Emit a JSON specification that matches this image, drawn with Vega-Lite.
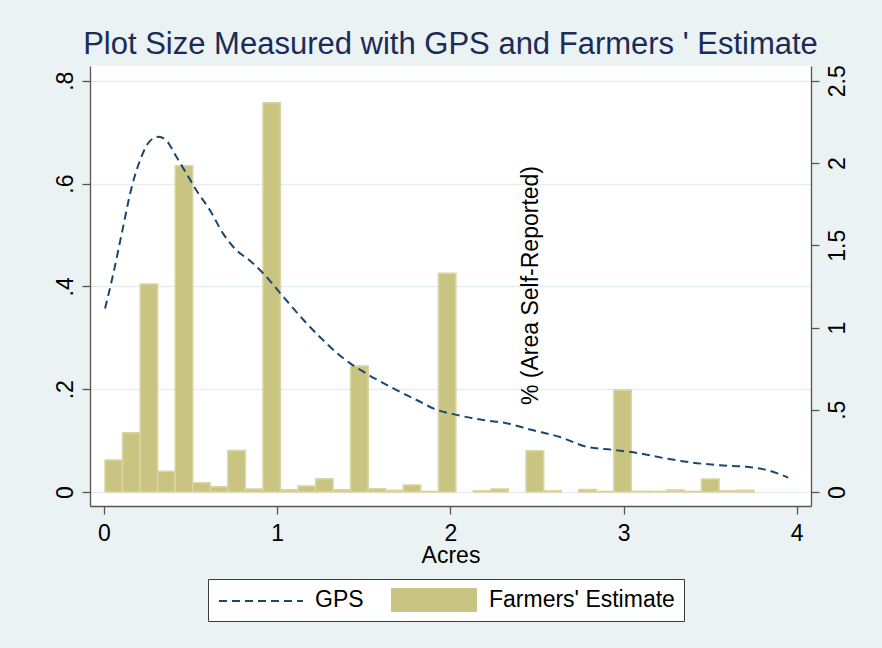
{
  "$schema": "https://vega.github.io/schema/vega-lite/v6.json",
  "autosize": {"type": "none"},
  "width": 721,
  "height": 440,
  "padding": {"left": 90, "top": 66, "right": 71, "bottom": 142},
  "background": "#eaf2f3",
  "config": {
    "view": {"fill": "white", "stroke": null},
    "font": "Liberation Sans",
    "axis": {
      "labelFont": "Liberation Sans", "labelFontSize": 23, "labelColor": "black",
      "titleFont": "Liberation Sans", "titleFontSize": 23, "titleColor": "black", "titleFontWeight": "normal",
      "domainColor": "#555555", "domainWidth": 1.3, "tickColor": "#555555", "tickWidth": 1.3, "tickSize": 8,
      "gridColor": "#e6eef1", "gridWidth": 1.5
    }
  },
  "title": {
    "text": "Plot Size Measured with GPS and Farmers ' Estimate",
    "font": "Liberation Sans", "fontSize": 31, "fontWeight": "normal", "color": "#1c2b57",
    "anchor": "middle", "frame": "group", "baseline": "alphabetic", "offset": 11, "dy": 31
  },
  "layer": [
    {
      "data": {"values": [
        {"start": 0.006, "end": 0.107, "density": 0.195},
        {"start": 0.107, "end": 0.209, "density": 0.36},
        {"start": 0.209, "end": 0.310, "density": 1.264},
        {"start": 0.310, "end": 0.411, "density": 0.126},
        {"start": 0.411, "end": 0.513, "density": 1.984},
        {"start": 0.513, "end": 0.614, "density": 0.057},
        {"start": 0.614, "end": 0.715, "density": 0.032},
        {"start": 0.715, "end": 0.816, "density": 0.253},
        {"start": 0.816, "end": 0.918, "density": 0.018},
        {"start": 0.918, "end": 1.019, "density": 2.367},
        {"start": 1.019, "end": 1.120, "density": 0.014},
        {"start": 1.120, "end": 1.222, "density": 0.036},
        {"start": 1.222, "end": 1.323, "density": 0.081},
        {"start": 1.323, "end": 1.424, "density": 0.014},
        {"start": 1.424, "end": 1.526, "density": 0.766},
        {"start": 1.526, "end": 1.627, "density": 0.02},
        {"start": 1.627, "end": 1.728, "density": 0.01},
        {"start": 1.728, "end": 1.829, "density": 0.043},
        {"start": 1.829, "end": 1.931, "density": 0.004},
        {"start": 1.931, "end": 2.032, "density": 1.33},
        {"start": 2.133, "end": 2.235, "density": 0.008},
        {"start": 2.235, "end": 2.336, "density": 0.018},
        {"start": 2.437, "end": 2.539, "density": 0.251},
        {"start": 2.539, "end": 2.640, "density": 0.008},
        {"start": 2.741, "end": 2.842, "density": 0.016},
        {"start": 2.842, "end": 2.944, "density": 0.004},
        {"start": 2.944, "end": 3.045, "density": 0.62},
        {"start": 3.045, "end": 3.146, "density": 0.004},
        {"start": 3.146, "end": 3.248, "density": 0.004},
        {"start": 3.248, "end": 3.349, "density": 0.012},
        {"start": 3.349, "end": 3.450, "density": 0.004},
        {"start": 3.450, "end": 3.552, "density": 0.079},
        {"start": 3.552, "end": 3.653, "density": 0.008},
        {"start": 3.653, "end": 3.754, "density": 0.01}
      ]},
      "mark": {"type": "rect", "strokeWidth": 1.5},
      "encoding": {
        "x": {
          "field": "start", "type": "quantitative",
          "scale": {"domain": [-0.0808, 4.0826], "nice": false, "zero": false},
          "axis": {"values": [0, 1, 2, 3, 4], "title": "Acres", "grid": false, "labelPadding": 8, "titleBaseline": "alphabetic", "titleY": 56}
        },
        "x2": {"field": "end"},
        "y": {
          "field": "density", "type": "quantitative",
          "scale": {"domain": [-0.085, 2.59], "nice": false, "zero": false},
          "axis": {
            "orient": "right", "values": [0, 0.5, 1, 1.5, 2, 2.5], "grid": false,
            "title": "% (Area Self-Reported)", "titleAngle": 270, "titleX": -281, "titleY": 219,
            "titleAlign": "center", "titleBaseline": "middle",
            "labelAngle": -90, "labelAlign": "center", "labelBaseline": "top", "labelPadding": 7,
            "labelExpr": "datum.value == 0 ? '0' : datum.value < 1 ? substring(format(datum.value, '.1f'), 1) : format(datum.value, '~g')"
          }
        },
        "y2": {"datum": 0},
        "stroke": {"value": "#dbd5a3"},
        "fill": {
          "datum": "Farmers' Estimate", "type": "nominal",
          "scale": {"domain": ["GPS", "Farmers' Estimate"], "range": ["transparent", "#cac482"]},
          "legend": {
            "orient": "none", "legendX": 118, "legendY": 513, "direction": "horizontal", "title": null,
            "padding": 9, "strokeColor": "#3c3c3c", "fillColor": "white", "zindex": 1,
            "labelFont": "Liberation Sans", "labelFontSize": 23, "labelColor": "black", "labelLimit": 400,
            "symbolType": "M-3.58,-1H3.58V1H-3.58Z", "symbolSize": 576, "symbolOffset": 31,
            "symbolStrokeWidth": 0,
            "labelOffset": 43, "columnPadding": 27
          }
        }
      }
    },
    {
      "data": {"values": [
        {"acres": 0.006, "density": 0.357},
        {"acres": 0.054, "density": 0.425},
        {"acres": 0.102, "density": 0.502},
        {"acres": 0.16, "density": 0.593},
        {"acres": 0.208, "density": 0.645},
        {"acres": 0.266, "density": 0.683},
        {"acres": 0.314, "density": 0.691},
        {"acres": 0.362, "density": 0.683},
        {"acres": 0.42, "density": 0.651},
        {"acres": 0.477, "density": 0.619},
        {"acres": 0.535, "density": 0.586},
        {"acres": 0.612, "density": 0.548},
        {"acres": 0.689, "density": 0.502},
        {"acres": 0.766, "density": 0.47},
        {"acres": 0.843, "density": 0.45},
        {"acres": 0.92, "density": 0.425},
        {"acres": 1.035, "density": 0.38},
        {"acres": 1.151, "density": 0.335},
        {"acres": 1.266, "density": 0.295},
        {"acres": 1.382, "density": 0.26},
        {"acres": 1.517, "density": 0.23},
        {"acres": 1.651, "density": 0.205},
        {"acres": 1.805, "density": 0.179},
        {"acres": 1.921, "density": 0.16},
        {"acres": 2.036, "density": 0.15},
        {"acres": 2.19, "density": 0.14},
        {"acres": 2.305, "density": 0.135},
        {"acres": 2.479, "density": 0.12},
        {"acres": 2.633, "density": 0.107},
        {"acres": 2.787, "density": 0.088},
        {"acres": 2.941, "density": 0.082},
        {"acres": 3.095, "density": 0.075},
        {"acres": 3.249, "density": 0.065},
        {"acres": 3.402, "density": 0.057},
        {"acres": 3.557, "density": 0.052},
        {"acres": 3.711, "density": 0.049},
        {"acres": 3.826, "density": 0.043},
        {"acres": 3.951, "density": 0.028}
      ]},
      "mark": {"type": "line", "strokeDash": [8, 5], "strokeWidth": 2, "interpolate": "monotone"},
      "encoding": {
        "x": {
          "field": "acres", "type": "quantitative",
          "scale": {"domain": [-0.0808, 4.0826], "nice": false, "zero": false},
          "axis": {"values": [0, 1, 2, 3, 4], "title": "Acres", "grid": false, "labelPadding": 8, "titleBaseline": "alphabetic", "titleY": 56}
        },
        "y": {
          "field": "density", "type": "quantitative",
          "scale": {"domain": [-0.0272, 0.8286], "nice": false, "zero": false},
          "axis": {
            "orient": "left", "values": [0, 0.2, 0.4, 0.6, 0.8], "title": null, "grid": true,
            "labelAngle": -90, "labelAlign": "center", "labelBaseline": "alphabetic", "labelPadding": 10,
            "labelExpr": "datum.value == 0 ? '0' : substring(format(datum.value, '.1f'), 1)"
          }
        },
        "stroke": {
          "datum": "GPS", "type": "nominal",
          "scale": {"domain": ["GPS"], "range": ["#1a476f"]},
          "legend": {
            "orient": "none", "legendX": 118, "legendY": 513, "direction": "horizontal", "title": null,
            "padding": 9, "zindex": 2,
            "labelFont": "Liberation Sans", "labelFontSize": 23, "labelExpr": "''",
            "symbolType": "M-3.5,0H3.5", "symbolSize": 576, "symbolOffset": 31,
            "symbolDash": [8, 5], "symbolStrokeWidth": 2, "symbolFillColor": "transparent"
          }
        }
      }
    }
  ],
  "resolve": {"scale": {"y": "independent"}}
}
